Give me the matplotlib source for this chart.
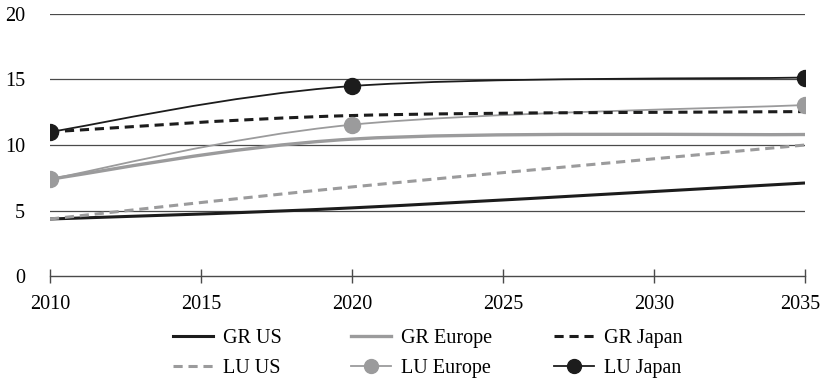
import numpy as np
import matplotlib
matplotlib.use("Agg")
import matplotlib.pyplot as plt
import matplotlib.transforms as mtransforms
from matplotlib.path import Path
from matplotlib.patches import PathPatch
from matplotlib.lines import Line2D

plt.rcParams['font.family'] = ['Liberation Serif', 'DejaVu Serif']

years = [2010, 2020, 2035]
gr_us = [4.35, 5.2, 7.1]
lu_us = [4.35, 6.8, 10.0]
gr_europe = [7.4, 10.45, 10.8]
lu_europe = [7.4, 11.55, 13.05]
gr_japan = [11.0, 12.25, 12.55]
lu_japan = [11.0, 14.5, 15.15]

x_ticks = [2010, 2015, 2020, 2025, 2030, 2035]
y_ticks = [0, 5, 10, 15, 20]

BLACK = "#1c1c1c"
GRAY = "#9b9b9c"
AXIS = "#4a4a4a"
FS = 14.5

fig = plt.figure(figsize=(8.24, 3.82), dpi=100)
ax = fig.add_axes([50 / 824, 1 - 276 / 382, 755 / 824, 262 / 382])
ax.set_xlim(2010, 2035)
ax.set_ylim(0, 20)


def smooth_path(xs, ys, ax):
    """Smoothed (Catmull-Rom style Bezier) path through the points, built in display space."""
    pts = ax.transData.transform(np.column_stack([xs, ys]))
    n = len(pts)
    ext = np.vstack([pts[0], pts, pts[-1]])
    verts = [pts[0]]
    codes = [Path.MOVETO]
    for i in range(n - 1):
        p0, p1, p2, p3 = ext[i], ext[i + 1], ext[i + 2], ext[i + 3]
        c1 = p1 + (p2 - p0) / 6.0
        c2 = p2 - (p3 - p1) / 6.0
        verts += [c1, c2, p2]
        codes += [Path.CURVE4] * 3
    verts = ax.transData.inverted().transform(np.array(verts))
    return Path(verts, codes)


dash = (0, (3, 1.9))
series = [
    ("GR US", gr_us, dict(color=BLACK, lw=2.2, ls="-"), None),
    ("LU US", lu_us, dict(color=GRAY, lw=2.2, ls=dash), None),
    ("GR Europe", gr_europe, dict(color=GRAY, lw=2.4, ls="-"), None),
    ("LU Europe", lu_europe, dict(color=GRAY, lw=1.3, ls="-"), "o"),
    ("GR Japan", gr_japan, dict(color=BLACK, lw=2.2, ls=dash), None),
    ("LU Japan", lu_japan, dict(color=BLACK, lw=1.3, ls="-"), "o"),
]

for y in y_ticks[1:]:
    ax.axhline(y, color=AXIS, lw=0.9, zorder=1)

handles = {}
for name, vals, st, marker in series:
    path = smooth_path(years, vals, ax)
    patch = PathPatch(path, facecolor="none", edgecolor=st["color"], lw=st["lw"],
                      linestyle=st["ls"], capstyle="butt", zorder=3)
    ax.add_patch(patch)
    if marker:
        ax.plot(years, vals, ls="none", marker="o", ms=11.5, color=st["color"], zorder=4)
    handles[name] = Line2D([], [], color=st["color"], lw=st["lw"], ls=st["ls"],
                           marker=marker if marker else None, ms=10)

for s in ["top", "right", "left"]:
    ax.spines[s].set_visible(False)
ax.spines["bottom"].set_color(AXIS)
ax.spines["bottom"].set_linewidth(1.0)
ax.set_xticks(x_ticks)
ax.set_yticks(y_ticks)
ax.set_xticklabels([str(v) for v in x_ticks])
ax.tick_params(axis="x", direction="inout", length=10, width=1.0, color=AXIS,
               labelsize=FS, pad=9)
ax.tick_params(axis="y", length=0, labelsize=FS, pad=18)

# keep the last year label inside the figure edge
last = ax.get_xticklabels()[-1]
last.set_transform(last.get_transform() +
                   mtransforms.ScaledTranslation(-5 / 100, 0, fig.dpi_scale_trans))

# legend: three columns placed side by side
columns = [(["GR US", "LU US"], 173), (["GR Europe", "LU Europe"], 351),
           (["GR Japan", "LU Japan"], 554)]
for names, x0 in columns:
    leg = fig.legend([handles[k] for k in names], names, loc="upper left",
                     bbox_to_anchor=(x0 / 824, 1 - 329 / 382), frameon=False,
                     fontsize=FS, handlelength=1.98, handletextpad=0.5,
                     labelspacing=0.55, borderaxespad=0, borderpad=0)

fig.savefig("out.png", dpi=100)
